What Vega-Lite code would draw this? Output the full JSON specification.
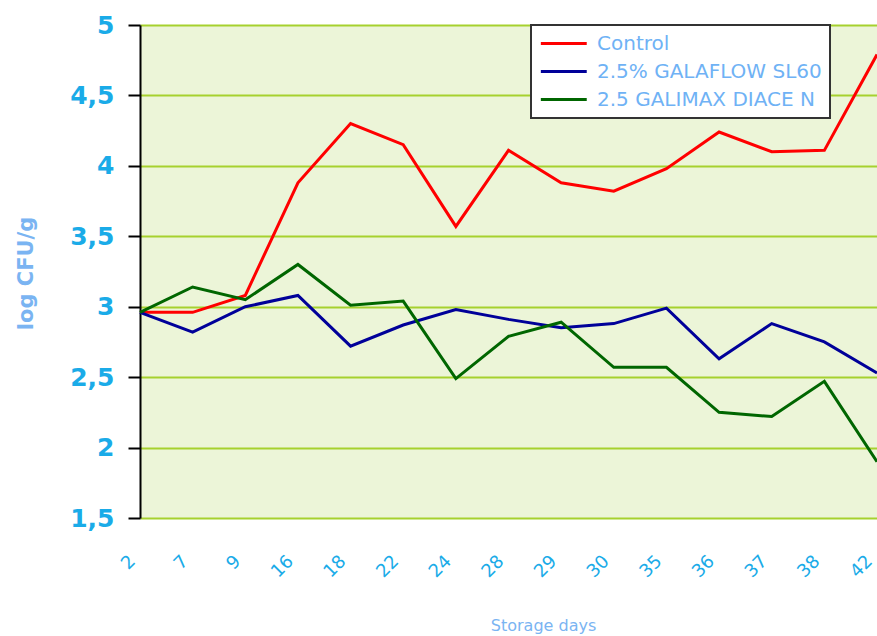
{
  "$schema": "https://vega.github.io/schema/vega-lite/v6.json",
  "width": 737,
  "height": 493,
  "autosize": {"type": "none"},
  "padding": {"left": 140, "top": 25, "right": 0, "bottom": 118},
  "background": "white",
  "config": {"view": {"fill": "#ECF5D8", "stroke": null}, "font": "DejaVu Sans", "legend": {"strokeWidth": 2}},
  "data": {"values": [
    {"day": 2, "series": "Control", "value": 2.96},
    {"day": 7, "series": "Control", "value": 2.96},
    {"day": 9, "series": "Control", "value": 3.08},
    {"day": 16, "series": "Control", "value": 3.88},
    {"day": 18, "series": "Control", "value": 4.3},
    {"day": 22, "series": "Control", "value": 4.15},
    {"day": 24, "series": "Control", "value": 3.57},
    {"day": 28, "series": "Control", "value": 4.11},
    {"day": 29, "series": "Control", "value": 3.88},
    {"day": 30, "series": "Control", "value": 3.82},
    {"day": 35, "series": "Control", "value": 3.98},
    {"day": 36, "series": "Control", "value": 4.24},
    {"day": 37, "series": "Control", "value": 4.1},
    {"day": 38, "series": "Control", "value": 4.11},
    {"day": 42, "series": "Control", "value": 4.79},
    {"day": 2, "series": "2.5% GALAFLOW SL60", "value": 2.96},
    {"day": 7, "series": "2.5% GALAFLOW SL60", "value": 2.82},
    {"day": 9, "series": "2.5% GALAFLOW SL60", "value": 3.0},
    {"day": 16, "series": "2.5% GALAFLOW SL60", "value": 3.08},
    {"day": 18, "series": "2.5% GALAFLOW SL60", "value": 2.72},
    {"day": 22, "series": "2.5% GALAFLOW SL60", "value": 2.87},
    {"day": 24, "series": "2.5% GALAFLOW SL60", "value": 2.98},
    {"day": 28, "series": "2.5% GALAFLOW SL60", "value": 2.91},
    {"day": 29, "series": "2.5% GALAFLOW SL60", "value": 2.85},
    {"day": 30, "series": "2.5% GALAFLOW SL60", "value": 2.88},
    {"day": 35, "series": "2.5% GALAFLOW SL60", "value": 2.99},
    {"day": 36, "series": "2.5% GALAFLOW SL60", "value": 2.63},
    {"day": 37, "series": "2.5% GALAFLOW SL60", "value": 2.88},
    {"day": 38, "series": "2.5% GALAFLOW SL60", "value": 2.75},
    {"day": 42, "series": "2.5% GALAFLOW SL60", "value": 2.53},
    {"day": 2, "series": "2.5 GALIMAX DIACE N", "value": 2.96},
    {"day": 7, "series": "2.5 GALIMAX DIACE N", "value": 3.14},
    {"day": 9, "series": "2.5 GALIMAX DIACE N", "value": 3.05},
    {"day": 16, "series": "2.5 GALIMAX DIACE N", "value": 3.3},
    {"day": 18, "series": "2.5 GALIMAX DIACE N", "value": 3.01},
    {"day": 22, "series": "2.5 GALIMAX DIACE N", "value": 3.04},
    {"day": 24, "series": "2.5 GALIMAX DIACE N", "value": 2.49},
    {"day": 28, "series": "2.5 GALIMAX DIACE N", "value": 2.79},
    {"day": 29, "series": "2.5 GALIMAX DIACE N", "value": 2.89},
    {"day": 30, "series": "2.5 GALIMAX DIACE N", "value": 2.57},
    {"day": 35, "series": "2.5 GALIMAX DIACE N", "value": 2.57},
    {"day": 36, "series": "2.5 GALIMAX DIACE N", "value": 2.25},
    {"day": 37, "series": "2.5 GALIMAX DIACE N", "value": 2.22},
    {"day": 38, "series": "2.5 GALIMAX DIACE N", "value": 2.47},
    {"day": 42, "series": "2.5 GALIMAX DIACE N", "value": 1.9}
  ]},
  "mark": {"type": "line", "strokeWidth": 3},
  "encoding": {
    "x": {
      "field": "day",
      "type": "ordinal",
      "scale": {"type": "point", "padding": 0},
      "axis": {
        "grid": false,
        "domain": false,
        "ticks": false,
        "labelAngle": -45,
        "labelFontSize": 18,
        "labelColor": "#1AABE8",
        "labelPadding": 34,
        "labelOffset": -14,
        "title": "Storage days",
        "titleColor": "#7AB4F2",
        "titleFontSize": 16,
        "titleFontWeight": "normal",
        "titleX": 403,
        "titleY": 99
      }
    },
    "y": {
      "field": "value",
      "type": "quantitative",
      "scale": {"domain": [1.5, 5], "nice": false, "zero": false},
      "axis": {
        "values": [1.5, 2, 2.5, 3, 3.5, 4, 4.5, 5],
        "labelExpr": "replace(format(datum.value, '~g'), '.', ',')",
        "grid": true,
        "gridColor": "#A6D12E",
        "gridWidth": 2,
        "domain": true,
        "domainColor": "#000000",
        "domainWidth": 2,
        "ticks": true,
        "tickColor": "#000000",
        "tickSize": 12,
        "tickWidth": 2,
        "labelColor": "#1AABE8",
        "labelFont": "DejaVu Sans",
        "labelFontWeight": "bold",
        "labelFontSize": 25,
        "labelPadding": 14,
        "title": "log CFU/g",
        "titleColor": "#7AB4F2",
        "titleFontSize": 21,
        "titleFontWeight": "bold",
        "titleX": -104,
        "titleY": 248
      }
    },
    "color": {
      "field": "series",
      "type": "nominal",
      "scale": {
        "domain": ["Control", "2.5% GALAFLOW SL60", "2.5 GALIMAX DIACE N"],
        "range": ["#FF0000", "#000099", "#006600"]
      },
      "legend": {
        "orient": "none",
        "legendX": 391,
        "legendY": 0,
        "title": null,
        "fillColor": "white",
        "strokeColor": "#333333",
        "padding": 8,
        "rowPadding": 7,
        "symbolType": "M-1,0H4.3",
        "symbolSize": 300,
        "symbolStrokeWidth": 3,
        "labelOffset": 37,
        "labelFontSize": 20,
        "labelColor": "#6FB2F5",
        "labelLimit": 400
      }
    }
  }
}
